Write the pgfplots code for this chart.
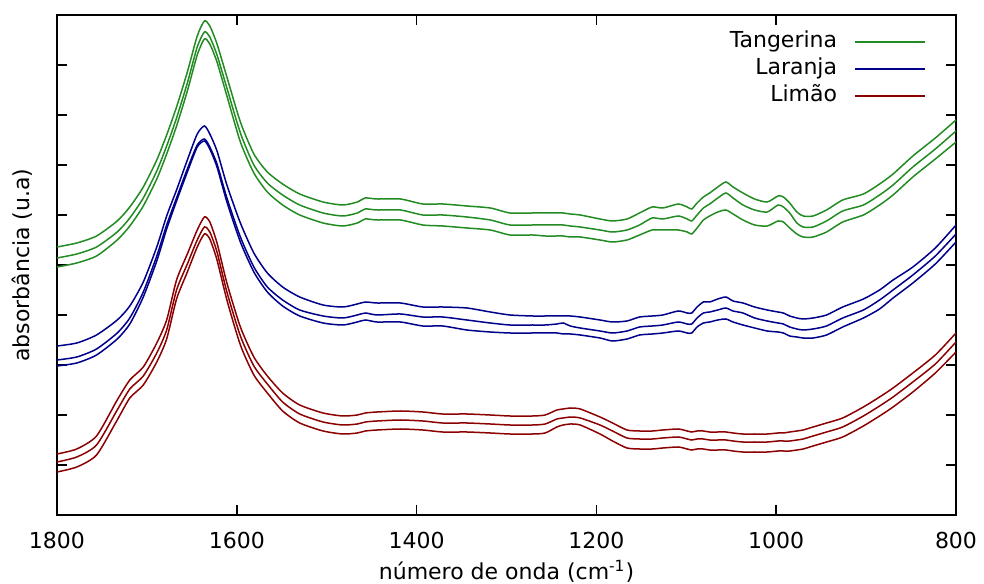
\documentclass[border=0pt]{standalone}
\usepackage{fontspec}
\setmainfont{DejaVu Sans}
\usepackage{pgfplots}
\usepackage{pgfplotstable}
\pgfplotsset{compat=1.18}

\definecolor{tang}{RGB}{34,139,34}
\definecolor{lar}{RGB}{0,0,139}
\definecolor{lim}{RGB}{139,0,0}

% wavenumber, then three spectra per fruit (arbitrary absorbance units, offset)
\pgfplotstableread{
w    g1  g2  g3  b1  b2  b3  r1  r2  r3
1800 268 257 248 169 155 149 61 53 43
1778 272 261 252 172 158 152 66 58 48
1756 279 268 259 180 166 160 79 70 60
1733 294 283 275 195 182 176 115 105 95
1719 308 297 289 209 197 191 135 126 117
1704 328 317 309 233 223 218 148 139 130
1689 355 344 336 268 259 254 172 162 153
1678 380 369 361 299 290 286 195 185 176
1667 408 397 389 325 317 314 235 225 216
1655 443 432 424 355 346 343 261 251 243
1644 479 468 460 381 370 368 285 275 268
1636 494 483 476 389 376 374 298 288 281
1630 489 478 471 381 368 366 293 283 276
1622 471 460 453 364 351 348 272 263 255
1611 438 427 419 330 317 313 232 223 215
1596 393 382 373 292 278 273 188 179 170
1581 361 350 342 262 248 243 158 149 140
1566 343 332 323 242 228 223 139 131 122
1549 331 320 310 228 215 209 122 113 104
1530 321 310 300 218 205 199 110 101 92
1504 313 302 292 210 199 192 102 93 84
1482 310 299 289 208 197 190 99 90 81
1466 313 302 292 211 200 193 100 91 82
1457 317 306 296 213 202 195 102 93 84
1444 316 305 295 212 200 193 103 94 85
1418 316 305 295 212 201 193 104 95 86
1393 311 300 290 208 198 189 103 94 85
1371 311 300 289 208 198 189 101 92 83
1344 309 298 287 207 195 185 101 92 83
1318 307 295 285 203 192 183 100 91 82
1296 302 290 280 200 190 182 99 90 81
1271 302 290 280 199 190 182 99 90 81
1257 302 290 279 199 190 182 100 91 82
1244 302 290 279 199 191 182 105 96 88
1237 302 290 279 199 192 181 106 97 90
1229 301 289 278 199 189 181 107 98 91
1218 300 288 278 198 187 180 106 97 90
1196 296 285 275 195 184 177 98 90 81
1182 294 283 273 193 182 174 92 84 74
1166 296 285 275 194 184 176 85 77 67
1152 302 290 280 198 188 180 84 76 66
1138 308 297 285 199 189 181 84 76 66
1126 307 296 285 200 190 182 85 77 67
1109 311 299 285 204 193 184 86 78 68
1099 308 296 283 202 191 182 84 76 66
1094 306 294 281 202 191 182 83 75 65
1088 312 300 287 208 197 188 84 76 66
1081 318 307 295 213 202 192 84 76 66
1074 322 311 299 213 203 193 83 75 65
1065 328 317 303 216 205 195 83 75 65
1056 333 322 305 218 207 196 83 75 65
1048 328 317 301 214 204 193 82 74 64
1037 322 310 295 212 202 190 81 73 63
1024 316 305 290 208 197 187 81 73 63
1010 313 303 289 205 194 184 81 73 63
998  319 310 294 203 192 183 82 74 64
992  318 308 293 202 191 182 82 74 64
985  312 302 287 199 188 179 83 74 64
977  303 292 281 197 186 178 84 75 65
970  299 288 278 196 185 177 85 76 66
959  299 288 278 197 186 177 88 79 69
944  305 294 283 200 189 180 92 83 73
926  315 304 293 208 197 188 97 88 78
903  321 310 300 216 205 197 108 99 89
885  331 320 310 225 215 206 118 109 99
870  341 330 320 235 225 217 127 118 108
848  359 348 338 248 240 232 142 133 123
823  377 366 356 267 259 251 160 151 142
800  395 384 373 290 281 273 182 173 163
}\spectra

\begin{document}
\begin{tikzpicture}
\useasboundingbox (-28.5pt,-34pt) rectangle (463.5pt,257.5pt);
\begin{axis}[
  scale only axis, width=449.5pt, height=250pt,
  at={(0,0)}, anchor=south west,
  font=\fontsize{11}{13}\selectfont,
  x dir=reverse, xmin=800, xmax=1800, ymin=0, ymax=500,
  xtick={800,1000,...,1800}, ytick={50,100,...,450}, yticklabels={},
  /pgf/number format/1000 sep={},
  /pgf/number format/assume math mode=true,
  xticklabel style={yshift=-5pt},
  tick align=inside, major tick length=5pt,
  tick style={black, line width=0.8pt},
  axis line style={line width=1pt},
  xlabel={número de onda (cm\textsuperscript{-1})},
  ylabel={absorbância (u.a)},
  xlabel style={at={(axis description cs:0.5,-0.112)}, anchor=center},
  ylabel style={at={(axis description cs:-0.039,0.5)}, anchor=center},
  legend plot pos=right, legend cell align=right,
  legend image code/.code={\draw[#1] (0pt,0pt) -- (35pt,0pt);},
  legend style={at={(rel axis cs:0.9666,0.968)}, anchor=north east,
    draw=none, fill=none, inner sep=0pt, column sep=8.5pt, row sep=3pt,
    nodes={inner sep=0pt, text height=8pt, text depth=2.5pt},
    font=\fontsize{11}{13}\selectfont},
  every axis plot/.append style={line width=0.75pt, smooth, tension=0.4},
]
\addplot[tang] table[x=w, y=g1] {\spectra};
\addlegendentry{Tangerina}
\addplot[tang, forget plot] table[x=w, y=g2] {\spectra};
\addplot[tang, forget plot] table[x=w, y=g3] {\spectra};
\addplot[lar] table[x=w, y=b1] {\spectra};
\addlegendentry{Laranja}
\addplot[lar, forget plot] table[x=w, y=b2] {\spectra};
\addplot[lar, forget plot] table[x=w, y=b3] {\spectra};
\addplot[lim] table[x=w, y=r1] {\spectra};
\addlegendentry{Limão}
\addplot[lim, forget plot] table[x=w, y=r2] {\spectra};
\addplot[lim, forget plot] table[x=w, y=r3] {\spectra};
\end{axis}
\end{tikzpicture}
\end{document}
